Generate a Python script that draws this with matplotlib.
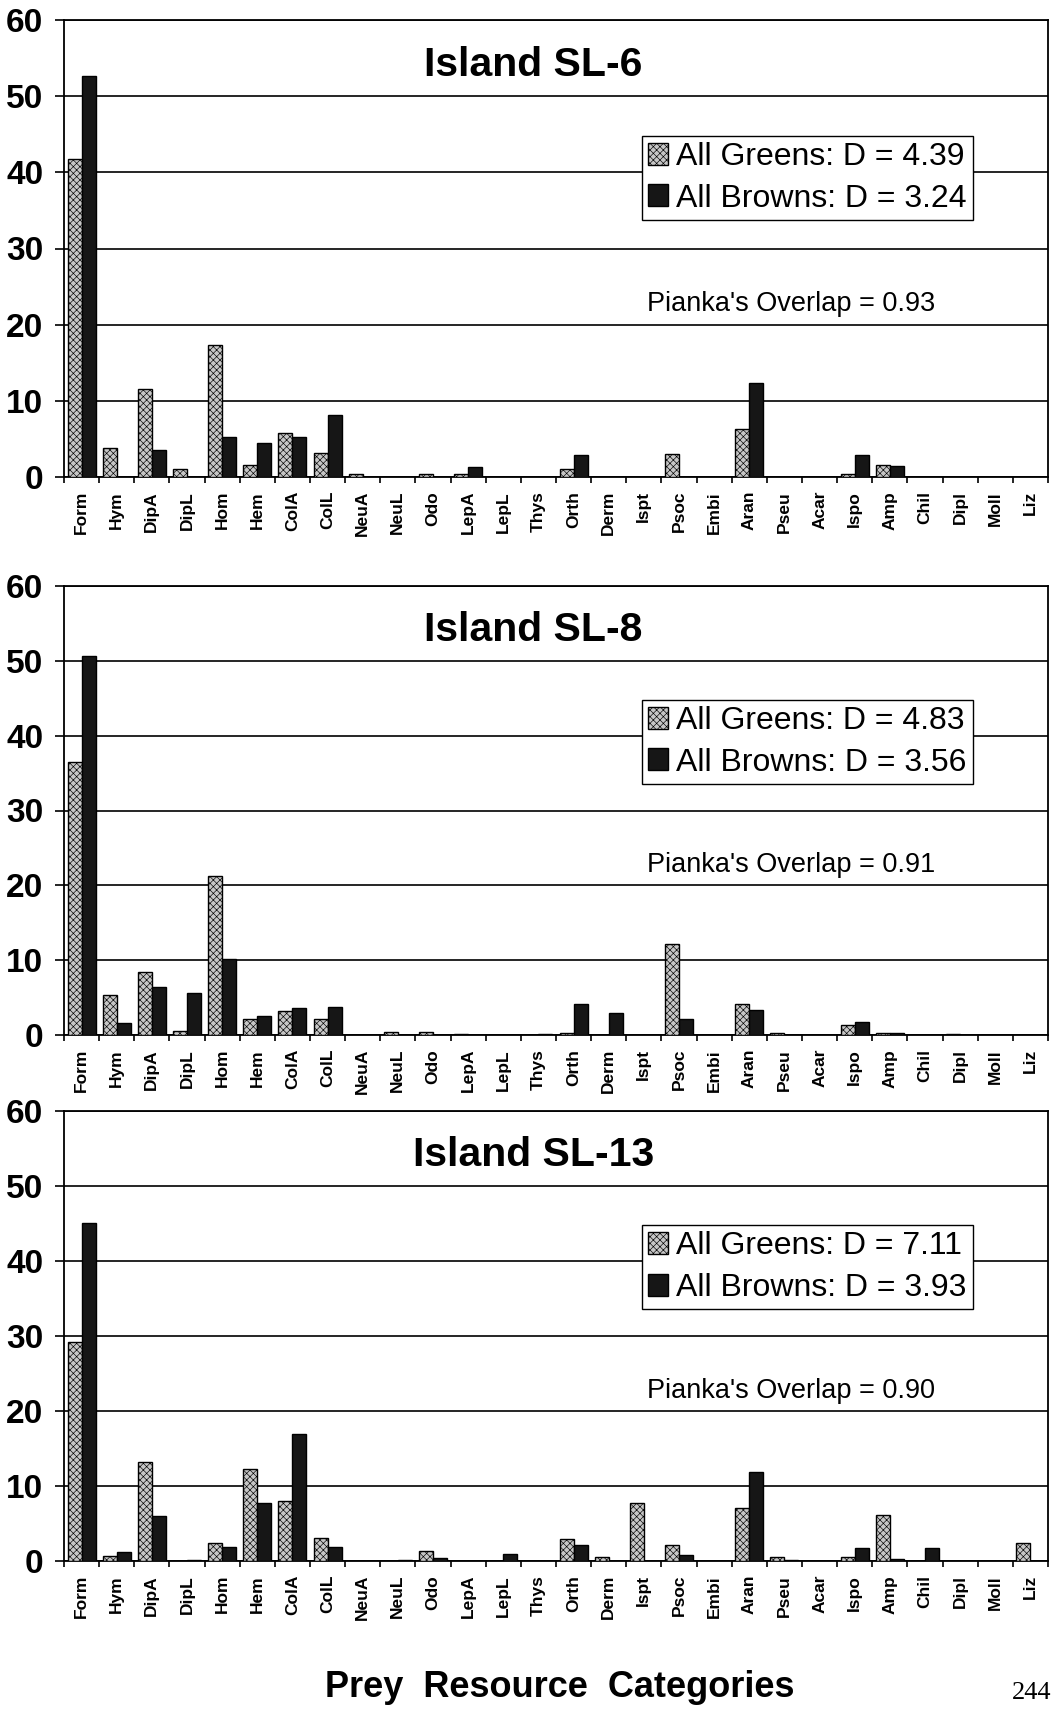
import matplotlib
matplotlib.use("Agg")
import matplotlib.pyplot as plt
from matplotlib.patches import Patch
import numpy as np

plt.rcParams['font.family'] = ['Liberation Sans', 'DejaVu Sans']
plt.rcParams['hatch.linewidth'] = 0.45

# Prey resource categories (x axis)
categories = ["Form", "Hym", "DipA", "DipL", "Hom", "Hem", "ColA", "ColL", "NeuA",
              "NeuL", "Odo", "LepA", "LepL", "Thys", "Orth", "Derm", "Ispt", "Psoc",
              "Embi", "Aran", "Pseu", "Acar", "Ispo", "Amp", "Chil", "Dipl", "Moll", "Liz"]

# Percent of diet per category, island SL-6
sl6_greens = [41.7, 3.8, 11.6, 1.1, 17.3, 1.6, 5.8, 3.1, 0.4, 0, 0.4, 0.4, 0, 0,
              1.0, 0, 0, 3.0, 0, 6.3, 0, 0, 0.4, 1.6, 0, 0, 0, 0]
sl6_browns = [52.7, 0, 3.6, 0, 5.2, 4.4, 5.2, 8.1, 0, 0, 0, 1.3, 0, 0,
              2.9, 0, 0, 0, 0, 12.4, 0, 0, 2.9, 1.4, 0, 0, 0, 0]

# Island SL-8
sl8_greens = [36.5, 5.3, 8.4, 0.5, 21.2, 2.2, 3.2, 2.2, 0, 0.4, 0.4, 0.2, 0, 0,
              0.3, 0, 0, 12.1, 0, 4.1, 0.3, 0, 1.4, 0.3, 0, 0.1, 0, 0]
sl8_browns = [50.6, 1.6, 6.4, 5.6, 10.1, 2.6, 3.6, 3.8, 0, 0, 0, 0, 0, 0.1,
              4.1, 2.9, 0, 2.2, 0, 3.4, 0, 0, 1.7, 0.3, 0, 0, 0, 0]

# Island SL-13
sl13_greens = [29.2, 0.7, 13.2, 0, 2.4, 12.3, 8.0, 3.1, 0, 0, 1.4, 0, 0, 0,
               2.9, 0.5, 7.7, 2.2, 0, 7.1, 0.6, 0, 0.6, 6.2, 0, 0, 0, 2.4]
sl13_browns = [45.1, 1.2, 6.0, 0.1, 1.9, 7.7, 16.9, 1.9, 0, 0.1, 0.4, 0, 1.0, 0,
               2.1, 0, 0, 0.8, 0, 11.9, 0.2, 0, 1.8, 0.3, 1.7, 0, 0, 0]

islands = ["Island SL-6", "Island SL-8", "Island SL-13"]
d_greens = [4.39, 4.83, 7.11]
d_browns = [3.24, 3.56, 3.93]
overlaps = [0.93, 0.91, 0.90]
greens = [sl6_greens, sl8_greens, sl13_greens]
browns = [sl6_browns, sl8_browns, sl13_browns]
y_ticks = [0, 10, 20, 30, 40, 50, 60]

W, H = 1053, 1734
fig = plt.figure(figsize=(W / 100, H / 100), dpi=100)
fig.patch.set_facecolor("white")

# panel frames in pixels: (top, bottom) of each plotting area
frames = [(20, 477), (586, 1035), (1111, 1561)]
left_px, right_px = 64, 1048

x = np.arange(len(categories))
bw = 0.4
green_face = "#c6c6c6"
brown_face = "#161616"

for k, (top, bot) in enumerate(frames):
    ax = fig.add_axes([left_px / W, 1 - bot / H, (right_px - left_px) / W, (bot - top) / H])
    ax.set_xlim(-0.5, len(categories) - 0.5)
    ax.set_ylim(0, 60)

    ax.bar(x - bw / 2, greens[k], width=bw, facecolor=green_face, edgecolor="black",
           hatch="xxxxx", linewidth=1.0, zorder=3)
    ax.bar(x + bw / 2, browns[k], width=bw, facecolor=brown_face, edgecolor="black",
           linewidth=1.0, zorder=3)

    ax.set_yticks(y_ticks)
    ax.set_yticklabels([str(v) for v in y_ticks], fontsize=24, fontweight="bold")
    ax.yaxis.grid(True, color="black", linewidth=1.2)
    ax.set_axisbelow(True)
    ax.tick_params(axis="y", direction="out", length=6.5, width=1.2, pad=8.5)

    ax.set_xticks(x)
    ax.set_xticklabels(categories, rotation=90, fontsize=12.5, fontweight="bold")
    ax.tick_params(axis="x", which="major", length=0, pad=10)
    ax.set_xticks(np.arange(-0.5, len(categories), 1), minor=True)
    ax.tick_params(axis="x", which="minor", direction="out", length=4, width=1.2)

    for side in ["left", "bottom", "top", "right"]:
        ax.spines[side].set_linewidth(1.3)
        ax.spines[side].set_color("black")

    ax.text(12.85, 52.6, islands[k], ha="center", va="baseline",
            fontsize=29.5, fontweight="bold")
    ax.text(20.18, 21.8, f"Pianka's Overlap = {overlaps[k]:.2f}", ha="center",
            va="baseline", fontsize=19.5)

    handles = [Patch(facecolor=green_face, edgecolor="black", hatch="xxxxx", linewidth=1.0),
               Patch(facecolor=brown_face, edgecolor="black", linewidth=1.0)]
    labels = [f"All Greens: D = {d_greens[k]:.2f}", f"All Browns: D = {d_browns[k]:.2f}"]
    leg = ax.legend(handles, labels, loc="upper left",
                    bbox_to_anchor=(15.94, 44.8), bbox_transform=ax.transData,
                    fontsize=23, frameon=True, fancybox=False, framealpha=1,
                    edgecolor="black", borderaxespad=0, borderpad=0.2,
                    labelspacing=0.36, handlelength=0.62, handleheight=0.68,
                    handletextpad=0.25)
    leg.get_frame().set_linewidth(1.0)
    leg.set_zorder(5)

fig.text(560 / W, 1 - 1697 / H, "Prey  Resource  Categories", ha="center",
         va="baseline", fontsize=26, fontweight="bold")
fig.text(1051 / W, 1 - 1693 / H, "244", ha="right", va="center", fontsize=19,
         family=["Liberation Serif", "DejaVu Serif"])

fig.savefig("out.png", dpi=100, facecolor="white")
